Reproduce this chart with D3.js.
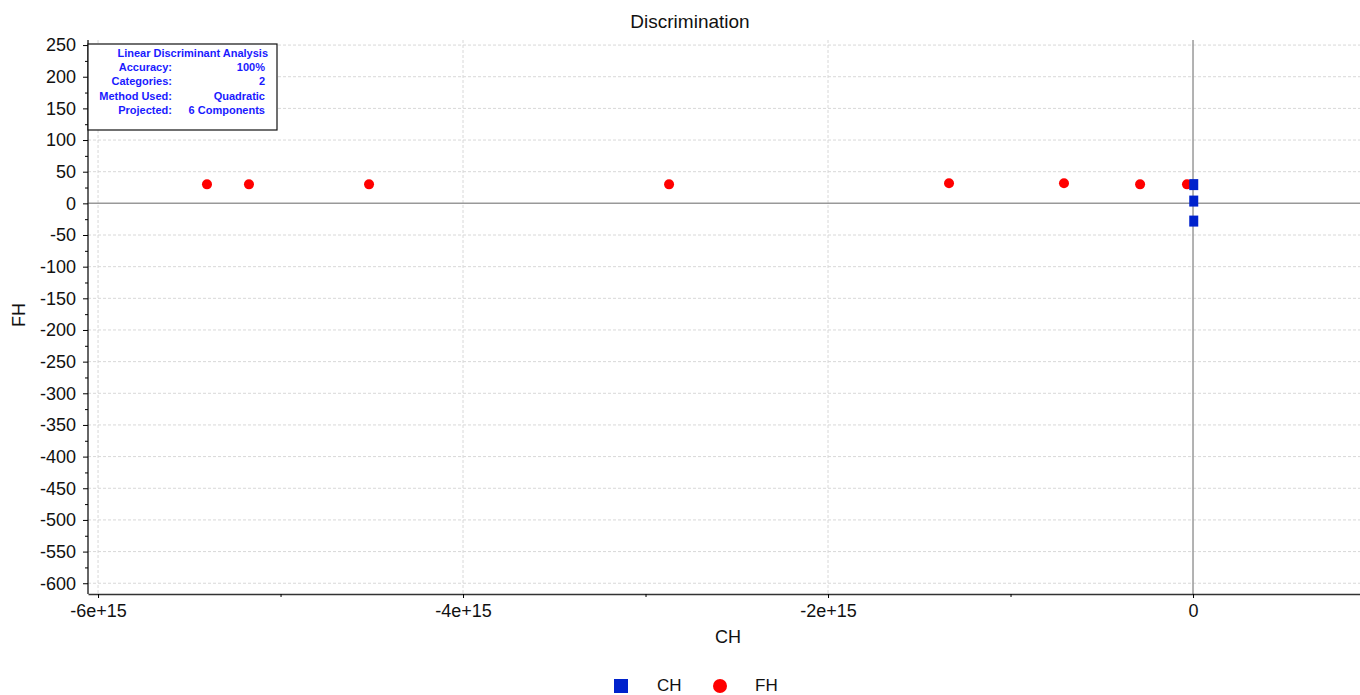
<!DOCTYPE html>
<html><head><meta charset="utf-8">
<script src="https://cdn.jsdelivr.net/npm/d3@7"></script>
<style>body{margin:0;background:#fff}svg{display:block;font-family:"Liberation Sans",Arial,sans-serif}</style>
</head><body><svg id="c" width="1360" height="695"></svg>
<script>
const fhX = [-5.403e15, -5.173e15, -4.515e15, -2.871e15, -1.337e15, -0.707e15, -0.290e15, -0.033e15];
const fhY = [30, 30, 30, 30, 31.7, 31.7, 30, 30];
const chX = [0.004e15, 0.004e15, 0.004e15];
const chY = [29.6, 3.6, -28];
const xTicks = [-6e15, -4e15, -2e15, 0];
const xTickLabels = ["-6e+15", "-4e+15", "-2e+15", "0"];
const yTicks = d3.range(-600, 251, 50);
const infoLabels = ["Accuracy:", "Categories:", "Method Used:", "Projected:"];
const infoValues = ["100%", "2", "Quadratic", "6 Components"];

const svg = d3.select("#c");
const L = 88, R = 1360, T = 40, B = 594;
const x = d3.scaleLinear().domain([-6.055e15, 0.915e15]).range([L, R]);
const y = d3.scaleLinear().domain([-617, 258]).range([B, T]);

// grid
const g = svg.append("g");
g.selectAll(".gx").data(xTicks.filter(v => v !== 0)).join("line")
  .attr("x1", d => x(d)).attr("x2", d => x(d)).attr("y1", T).attr("y2", B)
  .attr("stroke", "#d8d8d8").attr("stroke-dasharray", "3,2");
g.selectAll(".gy").data(yTicks.filter(v => v !== 0)).join("line")
  .attr("x1", L).attr("x2", R).attr("y1", d => y(d)).attr("y2", d => y(d))
  .attr("stroke", "#d8d8d8").attr("stroke-dasharray", "3,2");
// zero lines
g.append("line").attr("x1", x(0)).attr("x2", x(0)).attr("y1", T).attr("y2", B).attr("stroke", "#999").attr("stroke-width", 1.5);
g.append("line").attr("x1", L).attr("x2", R).attr("y1", y(0)).attr("y2", y(0)).attr("stroke", "#999").attr("stroke-width", 1.5);

// axes
const xAxis = d3.axisBottom(x).tickValues(xTicks).tickFormat((d, i) => xTickLabels[i]).tickSize(4).tickSizeOuter(0);
const xa = svg.append("g").attr("transform", `translate(0,${B})`).call(xAxis);
xa.select(".domain").attr("stroke", "#333").attr("stroke-width", 1.5);
xa.selectAll("text").attr("font-size", 18).attr("fill", "#111").attr("y", 9).attr("dy", "0.75em");
svg.append("g").attr("transform", `translate(0,${B})`)
  .call(d3.axisBottom(x).tickValues([-5e15, -3e15, -1e15]).tickFormat("").tickSize(3).tickSizeOuter(0))
  .select(".domain").remove();

const yAxis = d3.axisLeft(y).tickValues(yTicks).tickFormat(d => String(d)).tickSize(5).tickSizeOuter(0);
const ya = svg.append("g").attr("transform", `translate(${L},0)`).call(yAxis);
ya.select(".domain").attr("stroke", "#333").attr("stroke-width", 1.5).attr("d", `M0,${T}V${B}`);
ya.selectAll("text").attr("font-size", 18).attr("fill", "#111").attr("x", -12);
svg.append("g").attr("transform", `translate(${L},0)`)
  .call(d3.axisLeft(y).tickValues(d3.range(-575, 250, 50)).tickFormat("").tickSize(3).tickSizeOuter(0))
  .select(".domain").remove();

// points
svg.append("g").selectAll("circle").data(fhX).join("circle")
  .attr("cx", d => x(d)).attr("cy", (d, i) => y(fhY[i])).attr("r", 5).attr("fill", "#ff0000");
svg.append("g").selectAll("rect").data(chX).join("rect")
  .attr("x", d => x(d) - 4.5).attr("y", (d, i) => y(chY[i]) - 5.5).attr("width", 9).attr("height", 11).attr("fill", "#0022cc");

// info box
const box = svg.append("g");
box.append("rect").attr("x", 88).attr("y", 44).attr("width", 189).attr("height", 86).attr("fill", "#fff").attr("stroke", "#111").attr("stroke-width", 1.2);
box.append("text").attr("x", 268).attr("y", 57).attr("text-anchor", "end").attr("font-size", 11).attr("font-weight", "bold").attr("fill", "#1a1aff").text("Linear Discriminant Analysis");
box.selectAll(".lab").data(infoLabels).join("text").attr("x", 172).attr("y", (d, i) => 71 + i * 14.3).attr("text-anchor", "end")
  .attr("font-size", 11).attr("font-weight", "bold").attr("fill", "#1a1aff").text(d => d);
box.selectAll(".val").data(infoValues).join("text").attr("x", 265).attr("y", (d, i) => 71 + i * 14.3).attr("text-anchor", "end")
  .attr("font-size", 11).attr("font-weight", "bold").attr("fill", "#1a1aff").text(d => d);

// titles
svg.append("text").attr("x", 690).attr("y", 28).attr("text-anchor", "middle").attr("font-size", 19).attr("fill", "#111").text("Discrimination");
svg.append("text").attr("x", 728).attr("y", 643).attr("text-anchor", "middle").attr("font-size", 18).attr("fill", "#111").text("CH");
svg.append("text").attr("transform", "translate(25,315) rotate(-90)").attr("text-anchor", "middle").attr("font-size", 18).attr("fill", "#111").text("FH");

// legend
const lg = svg.append("g");
lg.append("rect").attr("x", 614).attr("y", 679).attr("width", 14).attr("height", 14).attr("fill", "#0022cc");
lg.append("text").attr("x", 657).attr("y", 691).attr("font-size", 17).attr("fill", "#111").text("CH");
lg.append("circle").attr("cx", 720).attr("cy", 686).attr("r", 7).attr("fill", "#ff0000");
lg.append("text").attr("x", 755).attr("y", 691).attr("font-size", 17).attr("fill", "#111").text("FH");
</script></body></html>
